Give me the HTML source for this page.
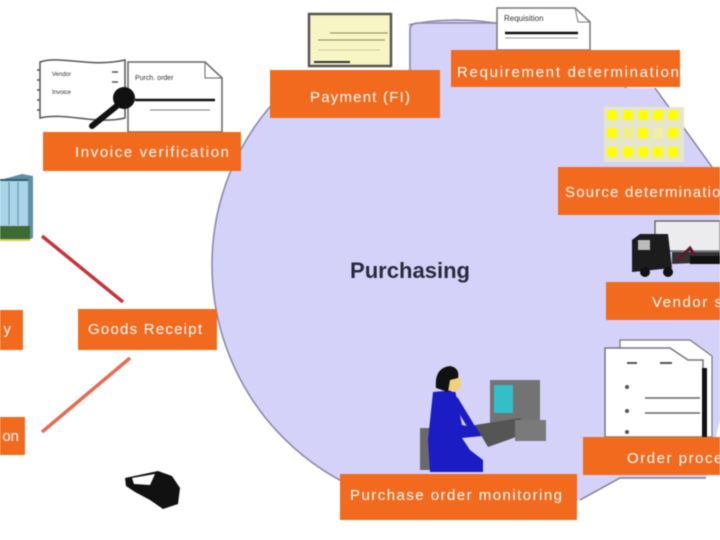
<!DOCTYPE html>
<html><head><meta charset="utf-8"><style>
html,body{margin:0;padding:0;background:#fff;}
svg{display:block;filter:blur(0.4px);}
text{font-family:"Liberation Sans",sans-serif;}
.b{fill:#f26a1e;}
.t{fill:#fff;font-size:15px;}
</style></head><body>
<svg width="720" height="540" viewBox="0 0 720 540" xmlns="http://www.w3.org/2000/svg">
<rect width="720" height="540" fill="#fff"/>
<!-- lavender shape -->
<circle cx="457" cy="265" r="245" fill="#d5d2f9" stroke="#8d89a9" stroke-width="1.6"/>
<rect x="250" y="0" width="159" height="71" fill="#fff"/>
<path d="M410,71 L410,29 Q411,23 418,23 L500,23" fill="none" stroke="#8d89a9" stroke-width="1.6"/>
<polygon points="600,88 655,88 712,167 720,170 720,420 706,478 620,478 580,500 500,500 520,300" fill="#d5d2f9"/>
<path d="M655,88 L712,167" stroke="#7f7b99" stroke-width="1.4" fill="none"/>
<path d="M580,500 L620,478 L706,478" stroke="#7f7b99" stroke-width="1.4" fill="none"/>

<!-- invoice doc icon -->
<path d="M40,62 C60,55 90,68 125,60 L125,118 C95,125 65,112 40,118 Z" fill="#fff" stroke="#555" stroke-width="1.5"/>
<path d="M40,70 h-3 M40,80 h-3 M40,90 h-3 M40,100 h-3 M40,110 h-3" stroke="#555" stroke-width="1.5"/>
<text x="52" y="76" font-size="6" fill="#333">Vendor</text>
<text x="52" y="94" font-size="6" fill="#333">Invoice</text>
<path d="M112,72 h6 M112,82 h6" stroke="#555" stroke-width="1.5"/>
<path d="M128,62 L205,62 L222,78 L222,132 L128,132 Z" fill="#fff" stroke="#666" stroke-width="1.5"/>
<path d="M205,62 L205,78 L222,78" fill="none" stroke="#666" stroke-width="1"/>
<text x="135" y="80" font-size="7" fill="#333">Purch. order</text>
<line x1="135" y1="100" x2="215" y2="100" stroke="#111" stroke-width="2.5"/>
<line x1="150" y1="110" x2="210" y2="110" stroke="#777" stroke-width="1"/>
<line x1="118" y1="105" x2="92" y2="126" stroke="#111" stroke-width="6" stroke-linecap="round"/>
<circle cx="124" cy="98" r="11" fill="#111"/>

<!-- payment doc -->
<rect x="309" y="14" width="82" height="52" fill="#f7f5c4" stroke="#555" stroke-width="2.5"/>
<line x1="330" y1="33" x2="388" y2="33" stroke="#8a8a50" stroke-width="1"/>
<line x1="318" y1="40" x2="385" y2="40" stroke="#8a8a50" stroke-width="1"/>
<line x1="318" y1="50" x2="380" y2="50" stroke="#c8c890" stroke-width="1"/>
<line x1="314" y1="62" x2="350" y2="62" stroke="#333" stroke-width="2"/>

<!-- requisition doc -->
<path d="M497,8 L575,8 L590,22 L590,50 L497,50 Z" fill="#fff" stroke="#777" stroke-width="1.5"/>
<path d="M575,8 L578,22 L590,22" fill="none" stroke="#777" stroke-width="1"/>
<text x="504" y="21" font-size="8" fill="#333">Requisition</text>
<line x1="505" y1="33" x2="578" y2="33" stroke="#111" stroke-width="2.5"/>
<line x1="505" y1="38" x2="578" y2="38" stroke="#999" stroke-width="1"/>

<!-- yellow grid -->
<rect x="604" y="107" width="80" height="55" fill="#e6e6cc"/>
<g fill="#ffff00">
<rect x="607" y="110" width="10" height="10"/><rect x="623" y="110" width="10" height="10"/><rect x="638" y="110" width="10" height="10"/><rect x="653" y="110" width="10" height="10"/><rect x="668" y="110" width="10" height="10"/>
<rect x="607" y="128" width="10" height="10"/><rect x="638" y="128" width="10" height="10"/><rect x="668" y="128" width="10" height="10"/>
<rect x="607" y="147" width="10" height="10"/><rect x="623" y="147" width="10" height="10"/><rect x="638" y="147" width="10" height="10"/><rect x="653" y="147" width="10" height="10"/><rect x="668" y="147" width="10" height="10"/>
</g>
<rect x="623" y="128" width="10" height="10" fill="#f0f080"/><rect x="653" y="128" width="10" height="10" fill="#f0f0a0"/>

<!-- truck -->
<rect x="655" y="221" width="65" height="30" fill="#ececee" stroke="#555" stroke-width="1.2"/>
<path d="M632,240 L640,234 L668,234 L672,268 L632,272 Z" fill="#1c1c1c"/>
<rect x="638" y="240" width="12" height="10" fill="#bbb"/>
<path d="M672,252 L720,252 L720,262 L672,264 Z" fill="#333"/>
<rect x="690" y="256" width="30" height="8" fill="#111"/>
<circle cx="645" cy="272" r="5" fill="#111"/><circle cx="668" cy="272" r="5" fill="#111"/>
<path d="M676,262 L690,248 L695,256" stroke="#5a1a2a" stroke-width="3" fill="none"/>

<!-- building -->
<rect x="0" y="180" width="28" height="60" fill="#a9d3e6"/>
<path d="M0,180 L22,174 L33,176 L33,238 L28,240 L28,180" fill="#5f8fa3"/>
<path d="M0,180 L28,180" stroke="#2f5f70" stroke-width="2"/>
<path d="M9,182 V225 M18,182 V225" stroke="#5f8fa3" stroke-width="1"/>
<rect x="0" y="226" width="30" height="13" fill="#3b6a33"/>
<line x1="0" y1="240" x2="30" y2="240" stroke="#d8c85a" stroke-width="2"/>

<!-- arrows -->
<line x1="42" y1="236" x2="123" y2="302" stroke="#c8343c" stroke-width="3.5"/>
<line x1="42" y1="432" x2="130" y2="358" stroke="#e86a52" stroke-width="3.5"/>

<!-- small black icon -->
<path d="M125,478 L158,471 L172,476 L180,488 L178,504 L163,509 L150,500 L135,492 L126,486 Z" fill="#111"/>
<path d="M132,478 L155,474 L150,485 L134,484 Z" fill="#fff"/>

<!-- order doc -->
<path d="M620,340 L690,340 L712,356 L712,437 L620,437 Z" fill="#fff" stroke="#777" stroke-width="1.2"/>
<path d="M605,348 L670,348 L688,360 L703,360 L703,437 L605,437 Z" fill="#fff" stroke="#777" stroke-width="1.5"/>
<rect x="702" y="368" width="5" height="70" fill="#111"/>
<path d="M627,363 h10 M660,363 h12" stroke="#555" stroke-width="2"/>
<circle cx="627" cy="387" r="2" fill="#555"/><circle cx="627" cy="411" r="2" fill="#555"/><circle cx="627" cy="432" r="2" fill="#555"/>
<line x1="645" y1="398" x2="700" y2="398" stroke="#666" stroke-width="1.5"/>
<line x1="645" y1="413" x2="700" y2="413" stroke="#666" stroke-width="1.5"/>

<!-- person at computer -->
<rect x="420" y="428" width="17" height="42" fill="#6a6a6a"/>
<path d="M433,392 L455,390 L462,425 L478,428 L482,436 L462,438 L470,450 L483,460 L483,472 L430,472 L428,440 Z" fill="#1c1cc4"/>
<path d="M455,400 L472,428 L480,432" stroke="#1c1cc4" stroke-width="7" fill="none" stroke-linecap="round"/>
<ellipse cx="454" cy="383" rx="7" ry="9" fill="#f0d07a"/>
<path d="M436,388 Q434,368 450,366 Q460,368 458,378 L450,380 L448,392 Z" fill="#111"/>
<rect x="490" y="380" width="50" height="43" fill="#737373"/>
<rect x="494" y="385" width="19" height="28" fill="#32bfc9"/>
<path d="M475,425 L520,418 L530,432 L488,447 Z" fill="#555"/>
<rect x="515" y="420" width="31" height="21" fill="#7a7a7a"/>

<!-- orange boxes -->
<rect class="b" x="43" y="132" width="198" height="39"/>
<text class="t" x="75" y="157" textLength="154" lengthAdjust="spacing">Invoice verification</text>
<rect class="b" x="270" y="70" width="170" height="48"/>
<text class="t" x="310" y="102" textLength="100" lengthAdjust="spacing">Payment (FI)</text>
<rect class="b" x="451" y="50" width="229" height="37"/>
<text class="t" x="457" y="77" textLength="222" lengthAdjust="spacing">Requirement determination</text>
<rect class="b" x="558" y="167" width="170" height="48"/>
<text class="t" x="565" y="197" textLength="165" lengthAdjust="spacing">Source determination</text>
<rect class="b" x="606" y="282" width="120" height="38"/>
<text class="t" x="652" y="307" textLength="134" lengthAdjust="spacing">Vendor selection</text>
<rect class="b" x="583" y="437" width="140" height="38"/>
<text class="t" x="627" y="463" textLength="138" lengthAdjust="spacing">Order processing</text>
<rect class="b" x="340" y="474" width="237" height="46"/>
<text class="t" x="350" y="500" textLength="212" lengthAdjust="spacing">Purchase order monitoring</text>
<rect class="b" x="78" y="309" width="139" height="41"/>
<text class="t" x="88" y="334" textLength="114" lengthAdjust="spacing">Goods Receipt</text>
<rect class="b" x="-5" y="310" width="28" height="40"/>
<text class="t" x="11" y="334" text-anchor="end">y</text>
<rect class="b" x="-5" y="417" width="30" height="38"/>
<text class="t" x="19" y="441" text-anchor="end">on</text>

<text x="350" y="278" font-size="22" font-weight="bold" fill="#2a2a3c" textLength="120" lengthAdjust="spacingAndGlyphs">Purchasing</text>
</svg>
</body></html>
